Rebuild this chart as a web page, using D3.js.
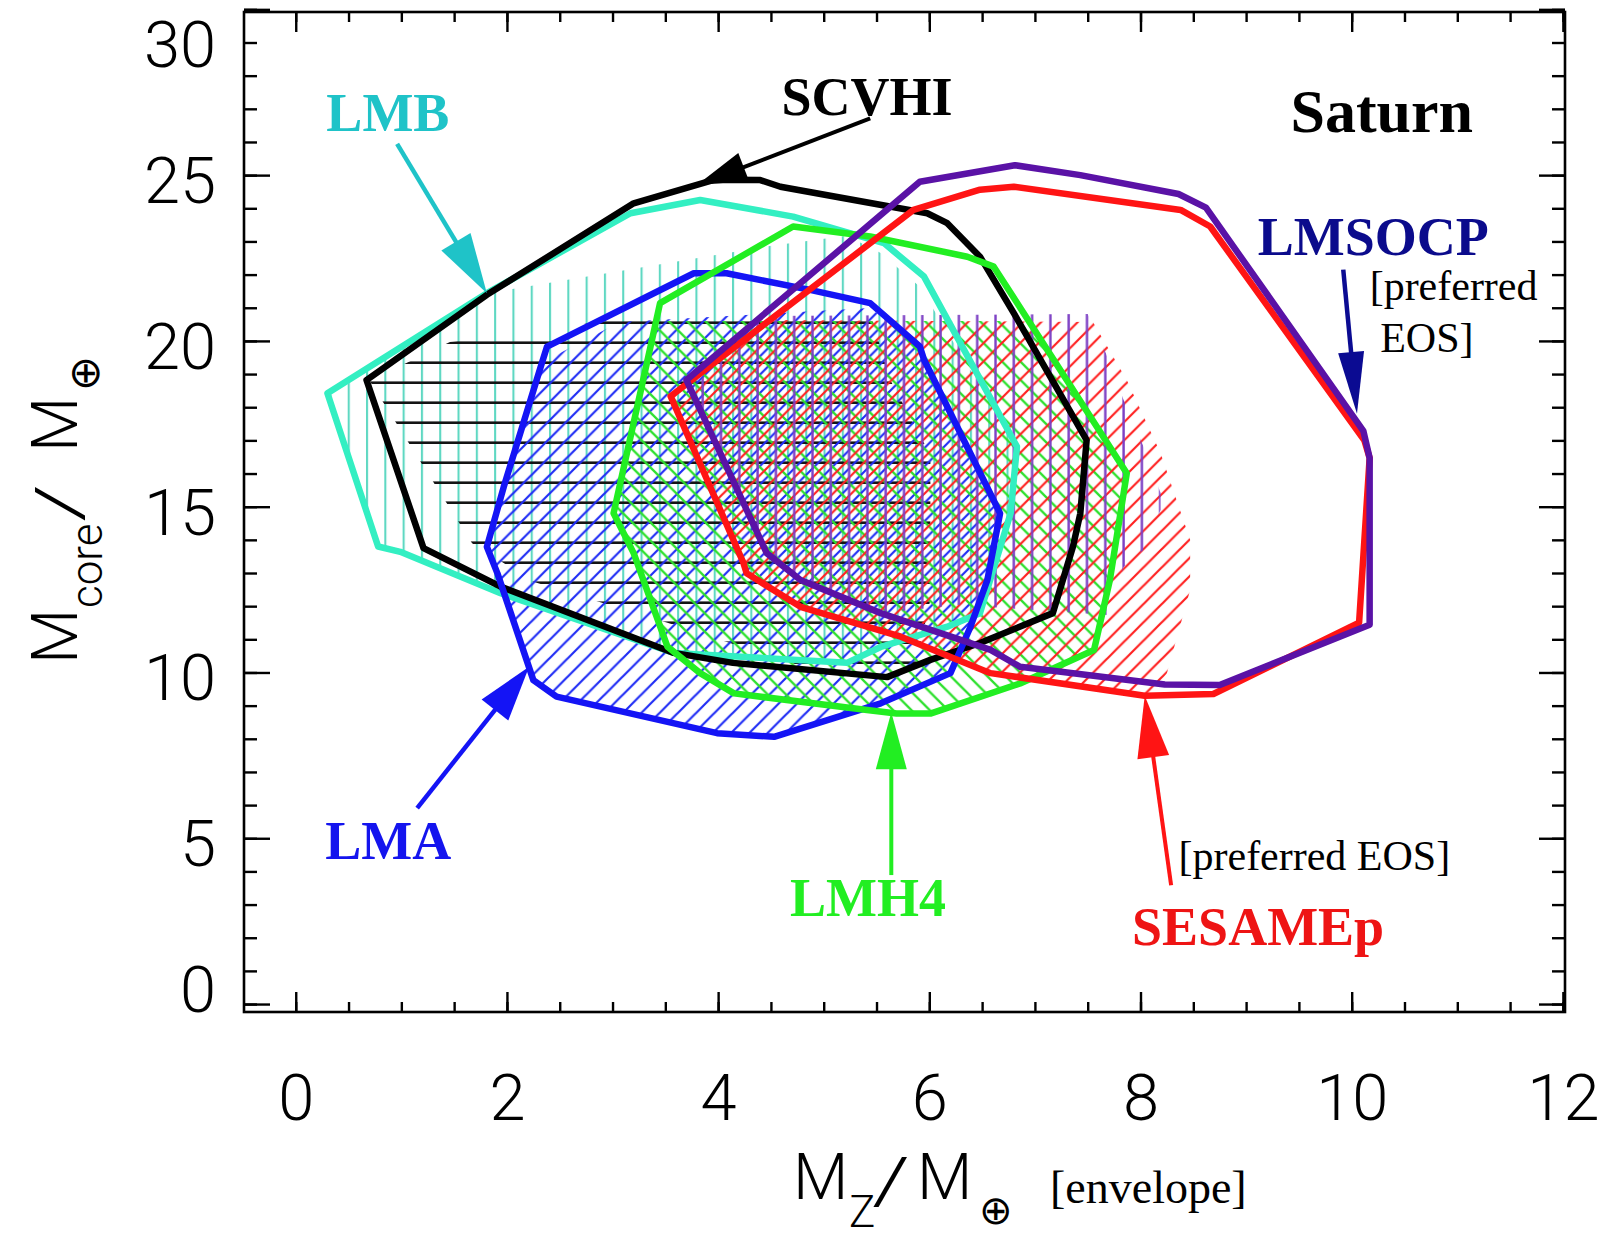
<!DOCTYPE html>
<html>
<head>
<meta charset="utf-8">
<script src="https://cdn.jsdelivr.net/npm/d3@7"></script>
<style>
  html, body { margin: 0; padding: 0; background: #fff; }
  svg { display: block; }
  .tick text { font-family: Roboto, "Liberation Sans", sans-serif; font-weight: 300; }
</style>
</head>
<body>
<svg id="chart" width="1614" height="1239"></svg>
<script>
// Saturn interior models: core mass vs heavy-element mass in the envelope, one contour per EOS.

const xTicks = [0, 2, 4, 6, 8, 10, 12];
const yTicks = [0, 5, 10, 15, 20, 25, 30];
const xMinor = d3.range(0, 12.001, 0.5);
const yMinor = d3.range(0, 30.001, 1);

// Outer contours, [Mz, Mcore]
const lmbOutline = [[0.30,18.42],[1.81,21.44],[3.17,23.85],[3.83,24.25],[4.71,23.75],[5.57,22.95],[5.95,21.94],[6.83,16.81],[6.77,14.80],[6.48,11.79],[6.17,11.38],[5.54,10.77],[5.22,10.29],[3.58,10.59],[1.94,12.39],[0.99,13.64],[0.78,13.80]];
const scvhiOutline = [[0.67,18.82],[1.81,21.39],[3.20,24.15],[3.96,24.86],[4.40,24.85],[4.59,24.65],[5.98,23.85],[6.17,23.55],[6.48,22.54],[6.80,20.84],[7.49,17.01],[7.43,14.80],[7.36,13.79],[7.17,11.79],[6.48,10.89],[6.01,10.38],[5.60,9.86],[4.14,10.29],[3.58,10.59],[1.94,12.59],[1.21,13.75]];
const lmaOutline = [[2.38,19.83],[3.77,22.04],[4.08,22.04],[4.87,21.54],[5.44,21.14],[5.91,19.83],[5.95,19.43],[6.67,14.80],[6.55,12.79],[6.39,11.38],[6.20,9.98],[5.54,9.07],[4.53,8.06],[3.99,8.17],[2.47,9.27],[2.25,9.77],[1.91,12.99],[1.81,13.79],[1.97,15.60],[2.32,19.22]];
const lmh4Outline = [[3.36,19.83],[3.45,21.14],[4.71,23.45],[5.44,23.15],[6.36,22.54],[6.61,22.24],[7.87,16.01],[7.81,14.80],[7.71,12.79],[7.56,10.68],[6.86,9.67],[6.01,8.76],[5.69,8.76],[5.41,8.87],[4.15,9.37],[3.83,9.98],[3.52,10.78],[3.20,13.60],[3.01,14.80]];
const sesameOutline = [[3.55,18.33],[5.85,23.95],[6.48,24.56],[6.80,24.65],[8.38,23.95],[8.66,23.45],[10.12,17.00],[10.17,16.47],[10.07,11.50],[8.69,9.35],[8.04,9.30],[6.58,9.98],[5.73,11.08],[4.78,11.98],[4.27,12.99],[4.24,13.30]];
const lmsocpOutline = [[3.70,18.82],[5.91,24.80],[6.81,25.30],[7.43,25.00],[8.36,24.43],[8.62,24.02],[10.11,17.29],[10.17,16.47],[10.17,11.44],[8.75,9.62],[8.23,9.64],[6.86,10.17],[6.58,10.68],[5.54,11.79],[4.78,12.79],[4.46,13.60]];

// Hatched sub-regions, [Mz, Mcore]
const lmbHatch = [[0.33,18.37],[1.81,21.44],[4.52,22.88],[5.22,23.17],[5.54,22.65],[5.91,21.63],[6.83,16.80],[6.77,14.81],[6.48,11.79],[6.17,11.37],[5.54,10.77],[5.22,10.29],[3.58,10.59],[1.94,12.39],[0.99,13.64],[0.78,13.79]];
const scvhiHatch = [[0.70,18.80],[1.46,19.97],[2.99,20.62],[5.46,20.62],[5.63,18.82],[6.01,16.56],[6.01,12.19],[5.87,10.20],[4.78,10.20],[3.52,11.50],[2.25,12.74],[1.67,13.90],[1.18,16.36]];
const lmaHatch = [[2.38,19.43],[3.07,20.57],[5.44,20.99],[5.91,19.82],[6.67,14.81],[6.55,12.79],[6.39,11.37],[6.20,9.98],[5.54,9.08],[4.52,8.05],[3.99,8.17],[2.48,9.26],[2.25,9.77],[1.91,13.00],[1.81,13.79],[1.97,15.60],[2.32,19.22]];
const lmh4Hatch = [[3.41,20.60],[6.94,20.60],[7.87,16.01],[7.81,14.80],[7.71,12.79],[7.56,10.68],[6.86,9.67],[6.01,8.76],[5.69,8.76],[5.41,8.87],[4.15,9.37],[3.83,9.98],[3.52,10.78],[3.20,13.60],[3.01,14.80],[3.36,19.83]];
const sesameHatch = [[4.49,20.63],[7.55,20.57],[7.87,18.82],[8.19,16.62],[8.47,14.00],[8.47,12.49],[8.25,9.98],[8.09,9.29],[6.58,9.98],[5.73,11.08],[4.78,11.98],[4.27,12.99],[4.24,13.30],[3.55,18.31]];
const lmsocpHatch = [[4.41,20.75],[7.50,20.81],[7.67,19.64],[7.84,18.22],[8.03,16.80],[8.19,15.41],[8.19,14.90],[8.03,13.70],[7.84,13.18],[7.69,11.73],[6.29,12.04],[5.54,11.79],[4.78,12.79],[4.47,13.60],[3.74,18.52]];

const models = [
  { name: "LMB",     outline: lmbOutline,    hatch: lmbHatch,    color: "#33efc2", hatchColor: "#5fd8c2", kind: "v", phase: 0.9, hw: 2.4 },
  { name: "SCVHI",   outline: scvhiOutline,  hatch: scvhiHatch,  color: "#000000", hatchColor: "#141414", kind: "h", phase: 2.7, hw: 2.6 },
  { name: "LMA",     outline: lmaOutline,    hatch: lmaHatch,    color: "#1414f5", hatchColor: "#1f2cf5", kind: "d", phase: 0, hw: 2.2 },
  { name: "LMH4",    outline: lmh4Outline,   hatch: lmh4Hatch,   color: "#22ee22", hatchColor: "#2ee02e", kind: "b", phase: 0, hw: 2.3 },
  { name: "SESAMEp", outline: sesameOutline, hatch: sesameHatch, color: "#ff1414", hatchColor: "#ff2020", kind: "d", phase: 9, hw: 2.2 },
  { name: "LMSOCP",  outline: lmsocpOutline, hatch: lmsocpHatch, color: "#5a12a6", hatchColor: "#7c3fc4", kind: "v", phase: 7.3, hw: 2.4 }
];

// Pointer arrows, [Mz, Mcore]
const arrows = [
  { tail: [0.96, 25.94], tip: [1.81, 21.44], color: "#1fc3c8", w: 4.5, hl: 60, hw: 34 },
  { tail: [5.44, 26.71], tip: [3.80, 24.70], color: "#000000", w: 4, hl: 50, hw: 30 },
  { tail: [9.92, 22.15], tip: [10.05, 17.80], color: "#0b0b92", w: 4.5, hl: 62, hw: 26 },
  { tail: [1.15, 5.91],  tip: [2.21, 10.17], color: "#1414f5", w: 4.5, hl: 55, hw: 34 },
  { tail: [5.64, 3.89],  tip: [5.64, 8.80],  color: "#22ee22", w: 4, hl: 57, hw: 31 },
  { tail: [8.29, 3.58],  tip: [8.04, 9.30],  color: "#ff1414", w: 4, hl: 62, hw: 32 }
];

// Annotation text, anchored at left/baseline in data units
const labels = [
  { text: "LMB",     at: [0.29, 26.33], color: "#1fc3c8", size: 54, bold: true },
  { text: "SCVHI",   at: [4.60, 26.82], color: "#000000", size: 54, bold: true },
  { text: "Saturn",  at: [9.42, 26.30], color: "#000000", size: 62, bold: true },
  { text: "LMSOCP",  at: [9.11, 22.59], color: "#0b0b8c", size: 54, bold: true },
  { text: "[preferred", at: [10.17, 21.22], color: "#000000", size: 42, bold: false },
  { text: "EOS]",    at: [10.27, 19.67], color: "#000000", size: 42, bold: false },
  { text: "LMA",     at: [0.28, 4.36],  color: "#1414ee", size: 54, bold: true },
  { text: "LMH4",    at: [4.68, 2.65],  color: "#22ee22", size: 54, bold: true },
  { text: "[preferred EOS]", at: [8.36, 4.04], color: "#000000", size: 42, bold: false },
  { text: "SESAMEp", at: [7.92, 1.78],  color: "#ee1414", size: 54, bold: true }
];

const frame = { left: 244, right: 1565, top: 12, bottom: 1012 };
const svg = d3.select("#chart");
svg.append("rect").attr("width", 1614).attr("height", 1239).attr("fill", "#fff");

const x = d3.scaleLinear().domain([-0.49, 12.02]).range([frame.left, frame.right]);
const y = d3.scaleLinear().domain([-0.24, 29.92]).range([frame.bottom, frame.top]);

const defs = svg.append("defs");
defs.append("clipPath").attr("id", "plotClip").append("rect")
  .attr("x", frame.left).attr("y", frame.top)
  .attr("width", frame.right - frame.left).attr("height", frame.bottom - frame.top);

// Hatch patterns: v = vertical, h = horizontal, d = "/" diagonal, b = "\" diagonal
const S = 18.3;
models.forEach((m, i) => {
  const p = defs.append("pattern").attr("id", "hatch" + i)
    .attr("patternUnits", "userSpaceOnUse").attr("width", S).attr("height", m.kind === "h" ? 20 : S);
  let d;
  if (m.kind === "v") d = `M${m.phase},-1V${S + 1}`;
  else if (m.kind === "h") d = `M-1,${m.phase}H${S + 1}`;
  else if (m.kind === "d") d = `M${-S / 2},${S / 2}L${S / 2},${-S / 2}M0,${S}L${S},0M${S / 2},${1.5 * S}L${1.5 * S},${S / 2}`;
  else d = `M${-S / 2},${S / 2}L${S / 2},${1.5 * S}M0,0L${S},${S}M${S / 2},${-S / 2}L${1.5 * S},${S / 2}`;
  p.append("path").attr("d", d).attr("stroke", m.hatchColor)
    .attr("stroke-width", m.hw).attr("fill", "none");
  if ((m.kind === "d" || m.kind === "b") && m.phase) p.attr("patternTransform", `translate(${m.phase},0)`);
});

const line = d3.line().x(d => x(d[0])).y(d => y(d[1])).curve(d3.curveLinearClosed);
const plot = svg.append("g").attr("clip-path", "url(#plotClip)");

plot.append("g").selectAll("path").data(models).join("path")
  .attr("d", m => line(m.hatch)).attr("fill", (m, i) => `url(#hatch${i})`).attr("stroke", "none");

plot.append("g").selectAll("path").data(models).join("path")
  .attr("d", m => line(m.outline)).attr("fill", "none")
  .attr("stroke", m => m.color).attr("stroke-width", 6.5).attr("stroke-linejoin", "round");

// Axes with inward ticks on all four sides
const tickFontSize = 65;
function styleAxis(g) {
  g.select(".domain").remove();
  g.selectAll(".tick line").attr("stroke", "#000").attr("stroke-width", 2.4);
}
svg.append("g").attr("transform", `translate(0,${frame.bottom})`)
  .call(d3.axisBottom(x).tickValues(xMinor).tickSize(-10).tickFormat("")).call(styleAxis);
svg.append("g").attr("transform", `translate(0,${frame.bottom})`)
  .call(d3.axisBottom(x).tickValues(xTicks).tickSize(-20).tickPadding(62).tickFormat(d3.format("d")))
  .call(styleAxis)
  .call(g => g.selectAll(".tick text").attr("font-size", tickFontSize).attr("fill", "#000"));
svg.append("g").attr("transform", `translate(0,${frame.top})`)
  .call(d3.axisTop(x).tickValues(xMinor).tickSize(-10).tickFormat("")).call(styleAxis);
svg.append("g").attr("transform", `translate(0,${frame.top})`)
  .call(d3.axisTop(x).tickValues(xTicks).tickSize(-20).tickFormat("")).call(styleAxis);

svg.append("g").attr("transform", `translate(${frame.left},0)`)
  .call(d3.axisLeft(y).tickValues(yMinor).tickSize(-13).tickFormat("")).call(styleAxis);
svg.append("g").attr("transform", `translate(${frame.left},0)`)
  .call(d3.axisLeft(y).tickValues(yTicks).tickSize(-26).tickPadding(28).tickFormat(d3.format("d")))
  .call(styleAxis)
  .call(g => g.selectAll(".tick text").attr("font-size", tickFontSize).attr("fill", "#000")
    .attr("dy", d => d === 30 ? "0.88em" : d === 0 ? "0.12em" : "0.42em"));
svg.append("g").attr("transform", `translate(${frame.right},0)`)
  .call(d3.axisRight(y).tickValues(yMinor).tickSize(-13).tickFormat("")).call(styleAxis);
svg.append("g").attr("transform", `translate(${frame.right},0)`)
  .call(d3.axisRight(y).tickValues(yTicks).tickSize(-26).tickFormat("")).call(styleAxis);

svg.append("rect")
  .attr("x", frame.left).attr("y", frame.top)
  .attr("width", frame.right - frame.left).attr("height", frame.bottom - frame.top)
  .attr("fill", "none").attr("stroke", "#000").attr("stroke-width", 2.6);

// Arrows
const ag = svg.append("g");
arrows.forEach(a => {
  const x1 = x(a.tail[0]), y1 = y(a.tail[1]), x2 = x(a.tip[0]), y2 = y(a.tip[1]);
  const L = Math.hypot(x2 - x1, y2 - y1), ux = (x2 - x1) / L, uy = (y2 - y1) / L;
  const bx = x2 - ux * a.hl, by = y2 - uy * a.hl;
  ag.append("line").attr("x1", x1).attr("y1", y1).attr("x2", bx + ux * 4).attr("y2", by + uy * 4)
    .attr("stroke", a.color).attr("stroke-width", a.w);
  ag.append("path")
    .attr("d", `M${x2},${y2}L${bx - uy * a.hw / 2},${by + ux * a.hw / 2}L${bx + uy * a.hw / 2},${by - ux * a.hw / 2}Z`)
    .attr("fill", a.color);
});

// Labels
svg.append("g").selectAll("text").data(labels).join("text")
  .attr("x", d => x(d.at[0])).attr("y", d => y(d.at[1]))
  .attr("font-family", '"Liberation Serif", "Times New Roman", serif')
  .attr("font-weight", d => d.bold ? "bold" : "normal")
  .attr("font-size", d => d.size).attr("fill", d => d.color)
  .style("white-space", "pre")
  .text(d => d.text);

// Axis titles
const sans = 'Roboto, "Liberation Sans", sans-serif';
const xt = svg.append("g").attr("font-family", sans).attr("font-weight", 300).attr("fill", "#000");
xt.append("text").attr("x", 793).attr("y", 1199).attr("font-size", 64).text("M");
xt.append("text").attr("x", 849).attr("y", 1227).attr("font-size", 44).text("Z");
xt.append("text").attr("x", 872).attr("y", 1203).attr("font-size", 64).attr("transform", "translate(872,1203) scale(1.5,1) translate(-872,-1203)").text("/");
xt.append("text").attr("x", 917).attr("y", 1199).attr("font-size", 64).text("M");
xt.append("text").attr("x", 979).attr("y", 1224).attr("font-size", 40).attr("font-family", '"DejaVu Sans", sans-serif').attr("font-weight", 200).text("\u2295");
svg.append("text").attr("x", 1050).attr("y", 1203)
  .attr("font-family", '"Liberation Serif", "Times New Roman", serif').attr("font-size", 46)
  .text("[envelope]");

const yt = svg.append("g").attr("transform", "translate(77,664) rotate(-90)")
  .attr("font-family", sans).attr("font-weight", 300).attr("fill", "#000");
yt.append("text").attr("x", 0).attr("y", 0).attr("font-size", 64).text("M");
yt.append("text").attr("x", 56).attr("y", 25).attr("font-size", 44).text("core");
yt.append("text").attr("x", 142).attr("y", 4).attr("font-size", 64).attr("transform", "translate(142,4) scale(1.5,1) translate(-142,-4)").text("/");
yt.append("text").attr("x", 212).attr("y", 0).attr("font-size", 64).text("M");
yt.append("text").attr("x", 273).attr("y", 22).attr("font-size", 42).attr("font-family", '"DejaVu Sans", sans-serif').attr("font-weight", 200).text("\u2295");
</script>
</body>
</html>
